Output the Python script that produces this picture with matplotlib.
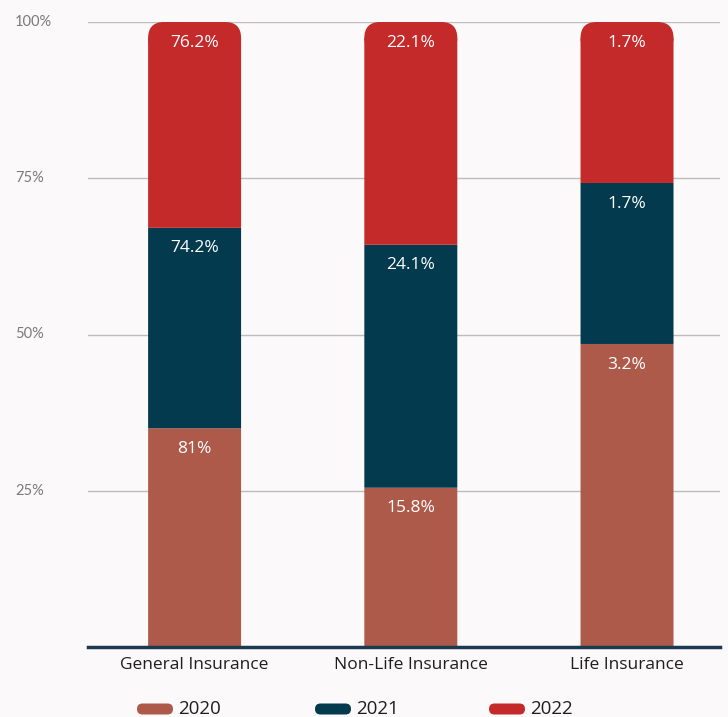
import numpy as np
import matplotlib
matplotlib.use("Agg")
import matplotlib.pyplot as plt
from matplotlib.patches import FancyBboxPatch
from matplotlib.transforms import blended_transform_factory

# ---------------------------------------------------------------------------
# Data (label values; bar heights are each value's share of the column)
# ---------------------------------------------------------------------------

categories = ["General Insurance", "Non-Life Insurance", "Life Insurance"]
years = ["2020", "2021", "2022"]
v2020 = [81, 15.8, 3.2]
v2021 = [74.2, 24.1, 1.7]
v2022 = [76.2, 22.1, 1.7]
labels2020 = ["81%", "15.8%", "3.2%"]
labels2021 = ["74.2%", "24.1%", "1.7%"]
labels2022 = ["76.2%", "22.1%", "1.7%"]
yticks = [25, 50, 75, 100]
ytick_labels = ["25%", "50%", "75%", "100%"]

colors = ["#AD5A4A", "#033A4E", "#C42A2A"]
BG = "#FBF9FA"

W, H = 728, 717
fig = plt.figure(figsize=(W / 100, H / 100), dpi=100, facecolor=BG)
ax = fig.add_axes([88 / W, 1 - 647 / H, (720 - 88) / W, (647 - 22) / H])
ax.set_facecolor(BG)

xlim = (-0.493, 2.43)
ylim = (0, 100)
ax.set_xlim(*xlim)
ax.set_ylim(*ylim)

# grid lines
for t in yticks:
    ax.axhline(t, color="#BDBDBD", lw=1, zorder=0)

vals = np.array([v2020, v2021, v2022], dtype=float)
shares = vals / vals.sum(axis=0) * 100
x = np.arange(len(categories))
w = 0.43

# aspect for rounded corners (y units per x unit, per pixel)
px_x = (720 - 88) / (xlim[1] - xlim[0])
px_y = (647 - 22) / (ylim[1] - ylim[0])
aspect = px_x / px_y
radius_px = 16
r_x = radius_px / px_x
r_y = radius_px / px_y

bottom = np.zeros(len(categories))
all_labels = [labels2020, labels2021, labels2022]
for i in range(len(years)):
    h = shares[i]
    for j in range(len(categories)):
        if i == len(years) - 1:
            # top segment: plain bar up to below the corner, rounded cap above
            top = bottom[j] + h[j]
            ax.bar(x[j], top - r_y - bottom[j], w, bottom=bottom[j],
                   color=colors[i], zorder=2, snap=False, lw=0)
            box = FancyBboxPatch((x[j] - w / 2, top - 2 * r_y), w, 2 * r_y,
                                 boxstyle="round,pad=0,rounding_size=%f" % r_x,
                                 mutation_aspect=aspect, fc=colors[i], ec="none",
                                 zorder=1.9, clip_on=False, snap=False)
            ax.add_patch(box)
        else:
            ax.bar(x[j], h[j], w, bottom=bottom[j], color=colors[i], zorder=2,
                   snap=False, lw=0)
        ax.text(x[j], bottom[j] + h[j] - 3.3, all_labels[i][j], ha="center",
                va="center", color="white", fontsize=12.5, family="Open Sans",
                zorder=3)
    bottom += h

# axes styling
for s in ["top", "right", "left"]:
    ax.spines[s].set_visible(False)
ax.spines["bottom"].set_color("#1B3A52")
ax.spines["bottom"].set_linewidth(2.5)
ax.spines["bottom"].set_zorder(4)
ax.set_yticks([])
ax.set_xticks(x)
ax.set_xticklabels(categories, fontsize=12.5, family="Open Sans", color="#1E1E1E")
ax.tick_params(axis="x", length=0, pad=7)

# y tick labels, left aligned near figure edge
trans = blended_transform_factory(fig.transFigure, ax.transData)
for t, lab in zip(yticks, ytick_labels):
    ax.text(15 / W, t, lab, transform=trans, ha="left", va="center",
            fontsize=10.5, color="#7A7A7A", family="Lato")

# legend: pill markers + text
leg_y = 1 - 709 / H
pill_x = [137, 315, 489]
for i, yr in enumerate(years):
    px0 = pill_x[i] / W
    pw = 36 / W
    ph = 11 / H
    pill = FancyBboxPatch((px0, leg_y - ph / 2), pw, ph,
                          boxstyle="round,pad=0,rounding_size=%f" % (ph / 2 * H / W),
                          mutation_aspect=W / H, transform=fig.transFigure,
                          fc=colors[i], ec="none")
    fig.patches.append(pill)
    fig.text(px0 + pw + 5 / W, leg_y, yr, ha="left", va="center", fontsize=13.5,
             family="Open Sans", color="#1E1E1E")

fig.savefig("out.png", dpi=100, facecolor=BG)
